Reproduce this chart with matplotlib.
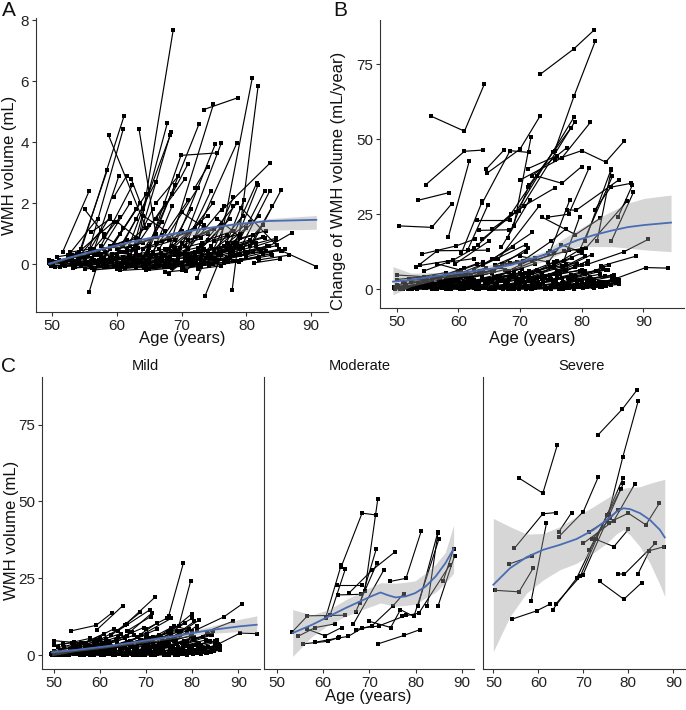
import matplotlib
matplotlib.use('Agg')
import matplotlib.pyplot as plt

plt.rcParams['font.family'] = ['Liberation Sans', 'DejaVu Sans']

# ---- panel A: WMH volume per subject, (age, value) pairs flattened ----
a_long = [
    (63.0, 0.3, 68.7, 7.69), (75.6, 0.3, 80.9, 6.10), (77.8, -0.83, 81.8, 5.83),
    (73.4, 5.07, 78.7, 5.46), (68.0, 0.5, 74.9, 5.24), (54.5, 0.5, 61.1, 4.86),
    (55.5, 0.3, 61.0, 4.45), (58.7, 4.23, 64.5, 1.2), (63.4, 4.45, 66.0, 1.0),
    (62.5, 0.5, 67.8, 4.64), (61.5, 0.4, 68.4, 4.32), (62.5, 0.2, 68.2, 4.23),
    (64.8, 0.4, 72.7, 4.61), (68.5, 0.4, 75.2, 3.94), (69.5, 0.3, 76.1, 3.96),
    (70.5, 0.2, 78.5, 3.96), (76.2, 1.77, 83.7, 3.33), (65.0, 0.6, 69.9, 3.57, 75.4, 3.65),
    (51.6, 0.4, 55.7, 2.40), (55.0, 1.80, 58.0, 1.0), (55.7, -0.91, 57.5, 0.35),
    (54.2, 0.4, 58.5, 3.08), (56.5, 0.5, 60.3, 2.9), (57.5, 0.6, 62.4, 2.6),
    (73.6, -1.04, 79.6, 2.1), (72.4, -0.44, 78.0, 2.2), (77.0, 0.5, 81.6, 2.67),
    (77.5, 0.3, 81.8, 2.6), (78.0, 0.4, 82.8, 2.4), (79.0, 0.5, 83.6, 2.4),
    (80.0, 0.3, 85.4, 2.45), (82.3, 0.45, 87.0, 1.03), (79.2, 1.85, 85.4, 0.45, 90.8, -0.07),
    (70.6, -0.23, 74.5, 0.6), (68.0, -0.30, 72.0, 0.4), (66.0, 1.5, 70.5, 2.8),
]
a_mid = [
    (52.5, 0.3, 57.0, 1.5), (53.0, 0.2, 59.5, 1.4), (56.0, 0.4, 60.5, 1.55), (57.0, 0.3, 62.0, 2.0),
    (58.0, 0.2, 63.0, 1.8), (59.0, 0.5, 64.5, 2.3), (60.0, 0.3, 66.0, 2.7), (61.0, 0.6, 65.0, 1.3),
    (62.0, 0.3, 67.5, 2.0), (64.0, 0.2, 69.0, 2.6), (65.5, 0.4, 71.0, 2.1), (66.5, 0.5, 72.5, 2.5),
    (67.0, 0.2, 73.0, 1.4), (68.5, 0.6, 74.0, 1.6), (69.0, 0.4, 74.8, 2.0), (71.0, 0.5, 76.5, 1.9),
    (72.0, 0.3, 77.5, 1.5), (73.0, 0.6, 78.5, 2.0), (74.0, 0.2, 79.5, 1.6), (75.0, 0.5, 80.5, 1.4),
    (76.0, 0.3, 82.0, 1.6), (60.5, 1.0, 63.5, 2.0), (66.0, 2.0, 69.5, 2.9), (62.2, 2.8, 64.0, 1.8),
    (53.5, 0.1, 57.5, 1.1), (55.0, 0.2, 59.0, 1.6), (57.5, 0.1, 61.0, 1.2), (59.5, 0.2, 63.0, 1.5),
    (61.5, 0.1, 65.5, 1.8), (63.5, 0.3, 67.0, 1.4), (65.0, 0.1, 68.5, 1.9), (67.5, 0.3, 71.5, 1.8),
    (69.5, 0.2, 73.5, 1.3), (70.5, 0.6, 74.5, 2.4), (72.5, 0.4, 76.0, 1.2), (74.5, 0.3, 78.0, 1.9),
    (76.5, 0.6, 80.0, 1.2), (78.5, 0.3, 82.5, 1.3), (80.5, 0.6, 84.0, 1.9), (60.0, 1.4, 63.5, 0.8),
    (64.0, 1.6, 67.5, 1.1), (70.0, 1.7, 73.5, 1.2), (75.5, 1.5, 79.0, 0.9), (58.0, 0.9, 61.5, 0.5),
    (68.5, 2.3, 71.0, 3.3), (72.0, 2.5, 74.0, 3.2), (59.5, 2.2, 61.5, 2.9), (56.0, 1.05, 59.0, 1.5),
]
a_dense = [
    (49.5, 0.05, 52.0, 0.1, 55.0, 0.2), (49.8, -0.05, 53.5, 0.0), (50.0, 0.1, 54.0, 0.15, 57.0, 0.3),
    (50.5, -0.1, 55.0, 0.05), (51.0, 0.15, 54.5, 0.25), (51.5, 0.0, 56.0, 0.1, 59.0, 0.2),
    (52.0, -0.05, 57.0, 0.05), (52.5, 0.2, 56.5, 0.35), (53.0, 0.0, 58.0, 0.1, 61.0, 0.25),
    (53.5, -0.1, 58.5, -0.05), (54.0, 0.1, 59.0, 0.2), (54.5, -0.05, 60.0, 0.05, 63.0, 0.15),
    (55.0, 0.2, 60.5, 0.4), (55.5, 0.0, 61.0, 0.1), (56.0, -0.1, 61.5, 0.0, 64.5, 0.1),
    (56.5, 0.1, 62.0, 0.25), (57.0, -0.05, 62.5, 0.05), (57.5, 0.25, 63.0, 0.45),
    (58.0, 0.0, 63.5, 0.15, 67.0, 0.3), (58.5, -0.1, 64.0, -0.05), (59.0, 0.1, 64.5, 0.3),
    (59.5, -0.05, 65.0, 0.05, 68.0, 0.2), (60.0, 0.2, 65.5, 0.35), (60.5, -0.1, 66.0, 0.0),
    (61.0, 0.05, 66.5, 0.2, 70.0, 0.35), (61.5, -0.05, 67.0, 0.1), (62.0, 0.3, 67.5, 0.5),
    (62.5, 0.0, 68.0, 0.1), (63.0, -0.1, 68.5, -0.05, 71.5, 0.1), (63.5, 0.15, 69.0, 0.3),
    (64.0, 0.0, 69.5, 0.15), (64.5, -0.05, 70.0, 0.05, 73.0, 0.2), (65.0, 0.2, 70.5, 0.4),
    (65.5, -0.1, 71.0, 0.0), (66.0, 0.1, 71.5, 0.25, 75.0, 0.4), (66.5, -0.05, 72.0, 0.1),
    (67.0, 0.3, 72.5, 0.55), (67.5, 0.0, 73.0, 0.15), (68.0, -0.1, 73.5, 0.0, 76.5, 0.15),
    (68.5, 0.15, 74.0, 0.35), (69.0, 0.0, 74.5, 0.2), (69.5, 0.25, 75.0, 0.5, 78.0, 0.7),
    (70.0, -0.05, 75.5, 0.1), (70.5, 0.1, 76.0, 0.3), (71.0, 0.35, 76.5, 0.6),
    (71.5, 0.0, 77.0, 0.2, 80.0, 0.35), (72.0, 0.2, 77.5, 0.45), (72.5, -0.05, 78.0, 0.1),
    (73.0, 0.4, 78.5, 0.7), (73.5, 0.1, 79.0, 0.3, 82.0, 0.5), (74.0, 0.25, 79.5, 0.55),
    (74.5, 0.0, 80.0, 0.2), (75.0, 0.45, 80.5, 0.8), (75.5, 0.15, 81.0, 0.4),
    (76.0, 0.3, 81.5, 0.6, 84.5, 0.8), (76.5, 0.05, 82.0, 0.25), (77.0, 0.5, 82.5, 0.9),
    (77.5, 0.2, 83.0, 0.45), (78.0, 0.35, 83.5, 0.6), (78.5, 0.1, 84.0, 0.3),
    (79.0, 0.55, 84.5, 0.85), (80.0, 0.25, 85.0, 0.5), (81.0, 0.4, 85.5, 0.45),
    (82.0, 0.15, 86.5, 0.3), (60.0, 0.5, 64.0, 0.7), (62.0, 0.6, 66.0, 0.9),
    (64.0, 0.5, 68.0, 0.85), (66.0, 0.7, 70.0, 1.1), (68.0, 0.8, 72.0, 1.2),
    (70.0, 0.7, 74.0, 1.0), (72.0, 0.9, 76.0, 1.3), (74.0, 0.8, 78.0, 1.1),
    (56.0, 0.4, 59.5, 0.6), (58.0, 0.5, 61.5, 0.8), (53.0, 0.3, 56.0, 0.45),
    (55.0, -0.15, 58.0, -0.1), (60.0, -0.15, 63.0, -0.1), (65.0, -0.15, 68.0, -0.1),
    (70.0, -0.15, 73.0, -0.05), (67.5, -0.25, 70.0, -0.2), (49.5, 0.15, 51.5, 0.1),
    (49.6, 0.0, 53.0, 0.05, 56.5, 0.15), (50.2, 0.05, 54.2, 0.12), (51.2, -0.08, 55.8, -0.02, 59.2, 0.08),
    (52.2, 0.12, 56.2, 0.22), (53.2, -0.12, 57.8, -0.06), (54.2, 0.28, 58.2, 0.4),
    (55.2, 0.08, 59.8, 0.18, 63.2, 0.3), (56.2, -0.12, 60.8, -0.06), (57.2, 0.15, 61.8, 0.32),
    (58.2, -0.06, 62.8, 0.04, 66.2, 0.14), (59.2, 0.35, 63.2, 0.55), (60.2, 0.02, 64.8, 0.12),
    (61.2, -0.12, 65.8, -0.04, 69.2, 0.06), (62.2, 0.18, 66.8, 0.36), (63.2, 0.04, 67.8, 0.16),
    (64.2, -0.12, 68.8, -0.04), (65.2, 0.32, 69.8, 0.52, 73.2, 0.7), (66.2, 0.02, 70.8, 0.12),
    (67.2, -0.1, 71.8, -0.02, 75.2, 0.08), (68.2, 0.25, 72.8, 0.45), (69.2, 0.08, 73.8, 0.22),
    (70.2, -0.1, 74.8, 0.0), (71.2, 0.2, 75.8, 0.42, 79.2, 0.58), (72.2, 0.05, 76.8, 0.18),
    (73.2, 0.3, 77.8, 0.52), (74.2, -0.05, 78.8, 0.08), (75.2, 0.22, 79.8, 0.42, 83.2, 0.6),
    (76.2, 0.45, 80.8, 0.72), (77.2, 0.08, 81.8, 0.22), (78.2, 0.6, 82.8, 0.88),
    (79.2, 0.15, 83.8, 0.35), (80.2, 0.42, 84.8, 0.62), (81.2, 0.05, 85.2, 0.18),
    (82.5, 0.35, 86.0, 0.5), (57.0, 0.45, 61.0, 0.65), (59.0, 0.6, 63.0, 0.85),
    (61.0, 0.4, 65.0, 0.6), (63.0, 0.65, 67.0, 0.95), (65.0, 0.55, 69.0, 0.8),
    (67.0, 0.75, 71.0, 1.05), (69.0, 0.55, 73.0, 0.85), (71.0, 0.8, 75.0, 1.15),
    (73.0, 0.65, 77.0, 0.95), (75.0, 0.75, 79.0, 1.0), (77.0, 0.7, 81.0, 0.95),
    (79.0, 0.85, 83.0, 1.1), (54.0, 0.0, 57.5, 0.1, 61.5, 0.2), (58.5, 0.1, 62.0, 0.2, 65.5, 0.35),
    (62.5, 0.15, 66.0, 0.3, 69.5, 0.45), (66.5, 0.2, 70.0, 0.35, 73.5, 0.5),
    (70.5, 0.3, 74.0, 0.45, 77.5, 0.6), (74.5, 0.35, 78.0, 0.5, 81.5, 0.7),
    (60.5, -0.2, 64.5, -0.15), (64.5, -0.2, 68.5, -0.12), (72.5, -0.15, 76.0, -0.05),
    (56.5, -0.18, 60.0, -0.12), (50.8, 0.25, 53.8, 0.35), (52.8, 0.4, 55.8, 0.5),
]
a_fit_age = [49.5, 52.6, 57.7, 62.9, 68.0, 73.1, 78.3, 83.4, 90.8]
a_fit = [0.02, 0.22, 0.51, 0.77, 0.98, 1.16, 1.31, 1.42, 1.46]
a_lo = [-0.02, 0.19, 0.46, 0.69, 0.86, 0.98, 1.06, 1.12, 1.15]
a_hi = [0.06, 0.25, 0.55, 0.82, 1.03, 1.22, 1.37, 1.50, 1.60]

# ---- panels B / C: per subject trajectories by severity ----
mild = [
    (74.9, 12.6, 78.1, 29.9), (77.1, 9.4, 79.7, 24.2), (65.5, 9.9, 72.0, 18.9),
    (59.4, 8.3, 65.0, 16.1), (53.8, 7.9, 59.2, 9.7, 62.6, 13.7), (81.0, 8.3, 86.8, 12.4, 90.8, 16.6),
    (83.2, 7.7, 88.8, 11.0), (85.4, 3.4, 90.4, 7.2, 94.0, 7.0), (50.1, 4.7, 56.5, 3.9),
    (64.0, 8.0, 70.9, 14.8), (66.5, 7.5, 71.3, 13.7), (62.5, 6.5, 68.8, 13.9),
    (69.0, 6.5, 75.5, 12.0), (73.0, 6.0, 80.0, 12.0), (76.0, 6.0, 81.6, 11.5),
    (74.0, 4.0, 80.5, 11.0), (70.0, 3.0, 76.0, 9.5, 80.0, 8.0), (60.0, 5.0, 66.0, 10.0),
    (57.0, 4.0, 63.0, 8.5), (55.0, 3.0, 61.0, 7.0), (52.0, 3.5, 58.0, 5.5),
    (51.0, 2.5, 56.0, 4.0, 60.0, 5.5), (50.0, 1.5, 55.0, 2.5), (49.5, 0.3, 54.0, 1.0, 58.0, 1.5),
    (49.8, 0.0, 53.0, 0.5), (50.5, 0.2, 55.5, 0.8), (51.5, 1.0, 57.0, 2.0),
    (52.5, 0.1, 57.5, 0.5, 62.0, 1.2), (53.5, 2.0, 59.0, 3.5), (54.5, 0.3, 60.0, 1.0),
    (55.5, 1.2, 61.0, 2.5, 65.0, 3.5), (56.0, 0.1, 61.5, 0.4), (56.8, 2.5, 62.0, 4.5),
    (57.5, 0.8, 63.0, 1.8), (58.0, 3.0, 64.0, 6.0), (58.5, 0.2, 64.5, 0.6, 68.0, 1.0),
    (59.0, 1.5, 65.0, 3.0), (59.5, 4.5, 64.5, 7.0), (60.0, 0.4, 66.0, 1.5),
    (60.5, 2.0, 66.5, 4.0, 70.0, 5.5), (61.0, 0.1, 67.0, 0.3), (61.5, 3.5, 67.5, 6.5),
    (62.0, 1.0, 68.0, 2.5), (62.5, 0.3, 68.5, 0.9, 72.0, 1.5), (63.0, 2.5, 69.0, 5.0),
    (63.5, 5.0, 69.5, 9.0), (64.0, 0.5, 70.0, 1.6), (64.5, 1.8, 70.5, 3.5, 74.0, 4.5),
    (65.0, 0.2, 71.0, 0.6), (65.5, 3.0, 71.5, 6.0), (66.0, 1.2, 72.0, 2.8),
    (66.5, 4.5, 72.5, 8.5), (67.0, 0.4, 73.0, 1.2, 77.0, 2.0), (67.5, 2.2, 73.5, 4.8),
    (68.0, 6.0, 72.5, 10.5), (68.5, 0.1, 74.5, 0.5), (69.0, 1.5, 75.0, 3.5),
    (69.5, 3.5, 75.5, 7.0), (70.0, 0.6, 76.0, 1.8), (70.5, 2.5, 76.5, 5.0, 80.0, 6.5),
    (71.0, 0.2, 77.0, 0.8), (71.5, 4.0, 77.5, 8.0), (72.0, 1.0, 78.0, 2.5),
    (72.5, 0.3, 78.5, 1.2, 82.0, 2.0), (73.0, 2.0, 79.0, 4.5), (73.5, 5.5, 78.5, 10.5),
    (74.0, 0.8, 80.0, 2.0), (74.5, 3.0, 80.5, 6.0), (75.0, 0.2, 81.0, 0.9),
    (75.5, 1.5, 81.5, 3.5, 85.0, 4.5), (76.0, 4.5, 81.0, 9.5), (76.5, 0.5, 82.5, 1.5),
    (77.0, 2.5, 83.0, 5.0), (77.5, 1.0, 83.5, 2.5, 86.0, 2.8), (78.0, 0.3, 84.0, 1.0),
    (78.5, 3.5, 84.0, 6.5), (79.0, 1.5, 85.0, 3.0), (79.5, 0.6, 85.5, 2.0),
    (80.0, 2.0, 86.0, 3.0), (80.5, 5.0, 84.5, 8.0), (81.0, 0.9, 86.0, 2.5),
    (82.0, 3.0, 85.0, 4.2), (50.0, 3.2, 54.5, 4.2), (49.6, 0.8, 53.5, 1.5, 57.5, 2.5),
    (51.0, 0.0, 56.5, 0.2, 61.0, 0.4), (53.0, 1.0, 58.5, 2.3), (54.0, 3.8, 59.5, 4.8),
    (55.0, 0.6, 60.5, 1.2), (57.0, 1.5, 62.5, 3.0, 66.0, 4.0), (58.0, 0.0, 63.5, 0.3),
    (60.0, 2.8, 65.5, 5.5), (61.0, 1.8, 66.5, 3.2), (62.0, 4.0, 67.0, 7.5),
    (63.0, 0.0, 68.0, 0.2, 72.5, 0.5), (64.5, 2.8, 69.0, 4.0), (66.0, 0.0, 71.5, 0.3),
    (67.0, 3.0, 72.0, 5.5), (69.0, 0.0, 74.0, 0.2, 78.0, 0.6), (70.5, 5.0, 75.5, 9.0),
    (72.0, 0.0, 77.5, 0.4), (73.5, 3.5, 79.0, 7.5), (75.0, 1.0, 80.0, 3.0),
    (77.0, 0.0, 82.0, 0.5), (79.0, 4.0, 83.5, 7.0), (81.5, 1.5, 85.5, 3.5),
    (66.0, 8.0, 71.0, 12.5), (70.0, 8.5, 74.5, 12.0), (75.5, 8.0, 80.0, 13.5),
    (49.7, 0.1, 52.5, 0.4, 56.0, 0.9), (50.3, 1.0, 54.8, 1.8), (50.8, 0.5, 55.2, 1.2, 58.8, 1.8),
    (51.3, 1.8, 55.8, 2.8), (51.8, 0.2, 56.3, 0.6), (52.3, 2.5, 56.8, 3.4),
    (52.8, 0.8, 57.3, 1.6, 61.3, 2.4), (53.3, 0.0, 57.8, 0.3), (53.8, 1.5, 58.3, 2.6),
    (54.3, 3.0, 58.8, 4.2), (54.8, 0.4, 59.3, 0.9, 63.3, 1.6), (55.3, 2.0, 59.8, 3.2),
    (55.8, 0.0, 60.3, 0.2), (56.3, 1.0, 60.8, 2.0, 64.8, 2.9), (56.8, 3.5, 61.3, 5.2),
    (57.3, 0.3, 61.8, 0.8), (57.8, 2.2, 62.3, 3.8), (58.3, 1.2, 62.8, 2.2, 66.8, 3.3),
    (58.8, 0.0, 63.3, 0.2), (59.3, 3.2, 63.8, 5.0), (59.8, 0.8, 64.3, 1.6),
    (60.3, 1.8, 64.8, 3.4, 68.8, 4.6), (60.8, 0.2, 65.3, 0.5), (61.3, 4.0, 65.8, 6.2),
    (61.8, 0.6, 66.3, 1.3), (62.3, 2.4, 66.8, 4.2, 70.8, 5.5), (62.8, 0.0, 67.3, 0.3),
    (63.3, 1.4, 67.8, 2.6), (63.8, 3.6, 68.3, 5.8), (64.3, 0.5, 68.8, 1.1, 72.8, 1.9),
    (64.8, 2.0, 69.3, 3.8), (65.3, 0.1, 69.8, 0.4), (65.8, 4.2, 70.3, 6.8),
    (66.3, 1.0, 70.8, 2.2, 74.8, 3.3), (66.8, 2.6, 71.3, 4.4), (67.3, 0.0, 71.8, 0.2),
    (67.8, 1.6, 72.3, 3.0), (68.3, 3.8, 72.8, 6.4, 76.8, 7.8), (68.8, 0.6, 73.3, 1.4),
    (69.3, 2.2, 73.8, 4.2), (69.8, 0.1, 74.3, 0.5, 78.3, 1.0), (70.3, 4.5, 74.8, 7.5),
    (70.8, 1.2, 75.3, 2.6), (71.3, 2.8, 75.8, 5.0, 79.8, 6.2), (71.8, 0.3, 76.3, 0.9),
    (72.3, 1.8, 76.8, 3.6), (72.8, 3.6, 77.3, 6.5), (73.3, 0.7, 77.8, 1.6, 81.8, 2.4),
    (73.8, 2.4, 78.3, 4.6), (74.3, 0.0, 78.8, 0.4), (74.8, 4.8, 79.3, 8.5),
    (75.3, 1.4, 79.8, 2.9), (75.8, 3.0, 80.3, 5.6, 84.3, 6.5), (76.3, 0.2, 80.8, 0.8),
    (76.8, 2.0, 81.3, 4.0), (77.3, 0.8, 81.8, 1.9), (77.8, 3.8, 82.3, 6.0),
    (78.3, 1.1, 82.8, 2.4, 85.5, 2.9), (78.8, 0.2, 83.3, 0.7), (79.3, 2.6, 83.8, 4.5),
    (79.8, 1.2, 84.3, 2.4), (80.3, 0.4, 84.8, 1.3), (80.8, 3.2, 85.3, 4.8),
    (81.3, 2.0, 85.8, 2.8), (81.8, 0.6, 86.0, 1.6), (82.3, 1.5, 85.8, 3.3),
    (83.0, 0.8, 86.0, 2.2), (52.0, 0.6, 55.5, 1.4, 59.5, 2.8), (57.0, 2.8, 60.5, 4.0),
    (62.0, 2.0, 65.5, 3.3),
]
moderate = [
    (63.9, 28.8, 68.4, 46.2, 71.5, 45.6), (69.0, 21.0, 71.8, 50.8),
    (74.5, 24.0, 77.9, 25.0, 81.2, 40.4), (80.5, 15.9, 84.8, 40.1), (82.5, 15.9, 84.8, 39.7),
    (79.6, 12.6, 85.0, 37.7), (84.8, 15.9, 88.4, 32.3), (85.9, 24.0, 88.2, 34.6),
    (77.1, 12.6, 80.7, 13.7, 87.4, 29.4), (71.9, 3.7, 77.4, 6.4, 80.9, 8.3),
    (53.2, 7.4, 56.6, 12.8, 64.8, 13.0), (54.5, 6.1, 58.3, 9.0, 62.6, 10.2),
    (55.7, 3.7, 61.0, 4.5, 63.5, 5.9), (58.3, 4.2, 63.3, 5.6, 65.4, 6.1, 68.4, 8.8),
    (60.5, 12.0, 63.9, 29.4), (61.5, 13.0, 64.8, 28.1), (63.0, 22.9, 68.4, 22.9),
    (63.3, 19.6, 68.2, 19.8), (65.5, 20.1, 70.6, 27.7, 75.6, 33.7), (67.0, 14.0, 71.6, 29.9),
    (66.5, 10.0, 73.1, 27.7), (67.1, 8.3, 70.5, 9.5, 75.0, 15.9, 77.4, 20.0),
    (70.0, 11.0, 74.6, 9.0, 76.7, 14.8, 79.6, 12.6), (68.4, 8.8, 72.0, 9.5, 78.0, 13.0),
    (56.5, 8.5, 60.4, 6.3, 64.0, 9.0), (68.0, 17.0, 71.5, 34.7),
]
severe = [
    (73.3, 71.7, 78.7, 80.1, 82.0, 86.4), (75.6, 46.0, 78.8, 64.6, 82.2, 82.7),
    (55.6, 57.7, 61.0, 52.7, 64.2, 68.3), (64.6, 38.6, 70.0, 46.7, 73.3, 57.9),
    (54.7, 34.8, 61.0, 46.0, 64.0, 46.4), (53.4, 29.6, 58.5, 32.2),
    (50.4, 21.1, 55.7, 20.6, 58.9, 28.4), (58.4, 17.5, 61.8, 42.9), (64.5, 40.0, 67.4, 46.4),
    (54.1, 11.7, 59.6, 14.4, 62.7, 16.7), (63.2, 14.8, 68.5, 25.0, 75.3, 45.6),
    (63.9, 16.7, 69.3, 25.6, 78.8, 57.5), (69.9, 26.1, 78.9, 55.9), (71.3, 34.2, 78.3, 53.9),
    (75.6, 43.1, 80.0, 46.2, 83.9, 42.4, 86.9, 49.4), (70.0, 36.4, 76.8, 43.8, 81.4, 55.6),
    (71.9, 37.7, 77.6, 47.2), (72.8, 37.7, 76.8, 35.3, 80.0, 40.9),
    (77.6, 26.5, 79.1, 26.3, 86.0, 36.4), (82.1, 26.3, 84.7, 34.0, 88.0, 35.3),
    (73.6, 24.0, 79.0, 18.2, 83.0, 23.6), (71.3, 40.2, 76.0, 44.5),
]

b_fit_age = [49.4, 52.4, 57.8, 63.2, 65.9, 68.6, 71.3, 74.0, 76.7, 79.4, 82.1, 84.8, 87.5, 90.2, 94.5]
b_fit = [2.5, 3.1, 4.8, 6.2, 7.0, 8.1, 9.8, 11.4, 14.2, 16.4, 18.1, 19.5, 20.7, 21.4, 22.2]
b_lo = [-1.9, 0.9, 3.7, 4.8, 5.5, 6.4, 7.8, 9.2, 12.0, 14.2, 14.2, 14.2, 13.7, 13.1, 12.5]
b_hi = [7.5, 5.3, 5.6, 7.5, 8.3, 9.2, 11.0, 12.5, 16.4, 19.8, 23.1, 25.9, 28.7, 30.3, 31.4]

mild_fit_age = [49.6, 54.3, 61.5, 68.8, 76.0, 83.2, 90.4, 94.0]
mild_fit = [0.9, 1.6, 2.9, 4.5, 6.1, 8.0, 9.4, 9.9]
mild_lo = [-0.2, 1.1, 2.4, 3.9, 5.4, 7.0, 7.7, 7.2]
mild_hi = [1.8, 2.0, 3.3, 5.0, 6.8, 9.1, 11.7, 12.8]

mod_fit_age = [53.4, 57.6, 61.2, 64.8, 68.4, 70.6, 72.4, 73.8, 75.6, 77.8, 79.9, 82.1, 84.3, 86.4, 88.2]
mod_fit = [7.2, 9.9, 12.6, 15.3, 17.8, 19.3, 20.4, 19.6, 18.8, 19.1, 20.2, 22.3, 25.6, 29.9, 34.6]
mod_lo = [-0.4, 6.1, 9.9, 12.6, 14.8, 16.0, 17.0, 16.5, 15.9, 16.2, 16.6, 18.6, 20.5, 23.5, 26.7]
mod_hi = [14.8, 13.1, 14.8, 18.0, 20.7, 22.3, 23.6, 23.5, 23.4, 23.7, 24.2, 26.7, 29.5, 33.5, 42.3]

sev_fit_age = [50.0, 53.7, 57.4, 61.1, 64.8, 68.5, 72.2, 75.2, 77.4, 78.9, 80.4, 82.6, 84.8, 87.0, 88.1]
sev_fit = [22.9, 28.3, 31.9, 34.3, 35.9, 37.8, 40.7, 44.0, 46.7, 47.8, 47.5, 46.2, 44.0, 40.8, 38.3]
sev_lo = [1.2, 12.6, 20.2, 24.5, 27.8, 29.9, 33.2, 36.4, 39.5, 40.8, 39.1, 35.3, 30.0, 23.0, 19.1]
sev_hi = [44.5, 41.8, 39.4, 39.6, 41.8, 45.1, 48.3, 51.0, 53.0, 54.3, 54.6, 54.8, 55.9, 56.8, 57.2]

W, H = 686, 710
BLUE = '#4a6cb3'
INK = '#333333'


def box(l, r, t, b):
    return [l / W, 1 - b / H, (r - l) / W, (b - t) / H]


def draw_traj(ax, trajs, ms, lw=0.8):
    for t in trajs:
        ax.plot(t[0::2], t[1::2], '-', color='black', lw=lw, marker='s',
                ms=ms, mfc='black', mec='black', mew=0, zorder=2)


def draw_smooth(ax, xs, fit, lo, hi):
    ax.fill_between(xs, lo, hi, color='#999999', alpha=0.4, lw=0, zorder=3)
    ax.plot(xs, fit, color=BLUE, lw=1.3, zorder=4)


def style(ax, show_y=True):
    for s in ['top', 'right']:
        ax.spines[s].set_visible(False)
    for s in ['left', 'bottom']:
        ax.spines[s].set_color(INK)
        ax.spines[s].set_linewidth(0.8)
    ax.tick_params(length=3, width=0.8, color=INK, labelsize=11,
                   labelcolor='#222222', pad=2)
    if not show_y:
        ax.tick_params(axis='y', left=False, labelleft=False)


fig = plt.figure(figsize=(W / 100, H / 100), dpi=100)

# A
ax = fig.add_axes(box(36, 328, 18, 312))
draw_traj(ax, a_dense + a_mid + a_long, 2.9, 0.85)
draw_smooth(ax, a_fit_age, a_fit, a_lo, a_hi)
ax.set_xlim(47.5, 92.6)
ax.set_ylim(-1.56, 8.07)
ax.set_xticks([50, 60, 70, 80, 90])
ax.set_yticks([0, 2, 4, 6, 8])
style(ax)

# B
ax = fig.add_axes(box(380, 684, 20, 308))
draw_traj(ax, mild + moderate + severe, 2.6, 0.85)
draw_smooth(ax, b_fit_age, b_fit, b_lo, b_hi)
ax.set_xlim(47.3, 96.6)
ax.set_ylim(-6.3, 89.8)
ax.set_xticks([50, 60, 70, 80, 90])
ax.set_yticks([0, 25, 50, 75])
style(ax)

# C facets
facets = [
    (mild, (mild_fit_age, mild_fit, mild_lo, mild_hi), (42, 260), (47.5, 94.7), True),
    (moderate, (mod_fit_age, mod_fit, mod_lo, mod_hi), (264, 474), (47.2, 92.6), False),
    (severe, (sev_fit_age, sev_fit, sev_lo, sev_hi), (483, 685), (47.7, 92.6), False),
]
for trajs, sm, (l, r), xl, show_y in facets:
    ax = fig.add_axes(box(l, r, 377, 669))
    draw_traj(ax, trajs, 2.3)
    draw_smooth(ax, *sm)
    ax.set_xlim(*xl)
    ax.set_ylim(-4.5, 90.5)
    ax.set_xticks([50, 60, 70, 80, 90])
    ax.set_yticks([0, 25, 50, 75])
    style(ax, show_y)


def ftext(x, y, s, **kw):
    fig.text(x / W, 1 - y / H, s, ha='center', va='center', color='#111111', **kw)


ftext(9, 11, 'A', fontsize=15)
ftext(340, 11, 'B', fontsize=15)
ftext(9, 367, 'C', fontsize=15)
ftext(145, 366, 'Mild', fontsize=10.5)
ftext(360, 366, 'Moderate', fontsize=10.5)
ftext(582, 366, 'Severe', fontsize=10.5)
ftext(182, 339, 'Age (years)', fontsize=12)
ftext(532, 339, 'Age (years)', fontsize=12)
ftext(368, 697, 'Age (years)', fontsize=12)
ftext(10, 165, 'WMH volume (mL)', fontsize=12, rotation=90)
ftext(339, 181, 'Change of WMH volume (mL/year)', fontsize=12, rotation=90)
ftext(12, 530, 'WMH volume (mL)', fontsize=12, rotation=90)

fig.savefig('out.png', dpi=100)
